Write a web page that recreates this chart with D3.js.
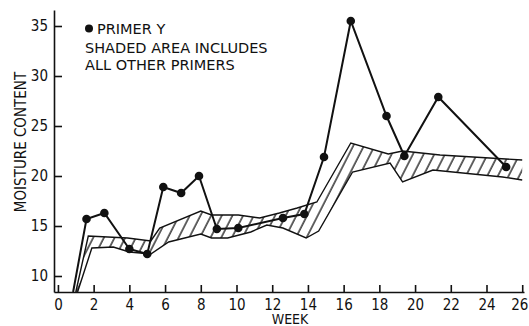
<!DOCTYPE html>
<html>
<head>
<meta charset="utf-8">
<script src="https://cdn.jsdelivr.net/npm/d3@7"></script>
<style>
  body { margin: 0; background: #fff; }
  text { font-family: "DejaVu Sans Condensed", "DejaVu Sans", sans-serif; fill: #111; }
  .legend { font-family: "DejaVu Sans", sans-serif; }
</style>
</head>
<body>
<div id="chart"></div>
<script>
// primer Y readings (week, moisture content)
const primerWeeks = [0.85, 1.6, 2.6, 4.0, 5.0, 5.9, 6.9, 7.9, 8.9, 10.1, 12.6, 13.8, 14.9, 16.4, 18.4, 19.4, 21.3, 25.1];
const primerValues = [8.4, 15.7, 16.3, 12.7, 12.2, 18.9, 18.3, 20.0, 14.7, 14.8, 15.8, 16.2, 21.9, 35.5, 26.0, 22.0, 27.9, 20.9];

// shaded band: upper edge of all other primers
const upperWeeks = [1.0, 1.7, 3.9, 5.2, 5.7, 8.0, 8.6, 10.1, 11.3, 12.4, 13.4, 14.5, 16.4, 18.5, 19.3, 21.4, 26.0];
const upperValues = [8.4, 14.0, 13.8, 13.5, 14.8, 16.5, 16.1, 16.1, 15.8, 16.3, 16.8, 17.4, 23.3, 22.2, 22.5, 22.1, 21.6];

// shaded band: lower edge
const lowerWeeks = [1.1, 1.9, 3.1, 4.0, 5.2, 6.2, 8.0, 8.6, 9.5, 10.8, 11.7, 12.6, 13.9, 14.6, 16.5, 18.6, 19.3, 21.0, 24.9, 26.0];
const lowerValues = [8.4, 12.8, 12.9, 12.4, 12.2, 13.4, 14.2, 13.8, 13.8, 14.4, 15.1, 14.8, 13.8, 14.5, 20.4, 21.3, 19.4, 20.6, 19.9, 19.6];

const yTicks = [10, 15, 20, 25, 30, 35];
const xTicks = [0, 2, 4, 6, 8, 10, 12, 14, 16, 18, 20, 22, 24, 26];

const width = 529, height = 326;

const svg = d3.select("#chart")
    .append("svg")
    .attr("width", width)
    .attr("height", height);

const x = d3.scaleLinear().domain([-0.22, 26.1]).range([54, 524]);
const y = d3.scaleLinear().domain([8.4, 36.6]).range([292, 10]);

// hatch pattern for the band
const pat = svg.append("defs")
    .append("pattern")
    .attr("id", "hatch")
    .attr("patternUnits", "userSpaceOnUse")
    .attr("width", 9.5)
    .attr("height", 20)
    .attr("patternTransform", "rotate(27)");
pat.append("line")
    .attr("x1", 1).attr("y1", 0)
    .attr("x2", 1).attr("y2", 20)
    .attr("stroke", "#000")
    .attr("stroke-width", 1.2);

const upper = upperWeeks.map((w, i) => [w, upperValues[i]]);
const lower = lowerWeeks.map((w, i) => [w, lowerValues[i]]);
const primer = primerWeeks.map((w, i) => [w, primerValues[i]]);

const line = d3.line().x(d => x(d[0])).y(d => y(d[1]));

// band fill
svg.append("path")
    .attr("d", line(upper.concat(lower.slice().reverse())) + "Z")
    .attr("fill", "url(#hatch)")
    .attr("stroke", "none");

// band edges
[upper, lower].forEach(edge => {
    svg.append("path")
        .attr("d", line(edge))
        .attr("fill", "none")
        .attr("stroke", "#111")
        .attr("stroke-width", 1.4);
});

// axes
const yAxis = svg.append("g")
    .attr("transform", `translate(${x.range()[0]},0)`)
    .call(d3.axisLeft(y).tickValues(yTicks).tickSizeInner(-8).tickSizeOuter(0).tickPadding(6));

const xAxis = svg.append("g")
    .attr("transform", `translate(0,${y.range()[0]})`)
    .call(d3.axisBottom(x).tickValues(xTicks).tickSizeInner(-7).tickSizeOuter(0).tickPadding(7));

[yAxis, xAxis].forEach(g => {
    g.selectAll("path, line").attr("stroke", "#111").attr("stroke-width", 1.6);
    g.selectAll("text")
        .style("font-size", "15px")
        .style("font-family", "'DejaVu Sans Condensed', 'DejaVu Sans', sans-serif")
        .attr("fill", "#111");
});
// keep the last week label inside the frame
xAxis.selectAll(".tick text").filter(d => d === 26).attr("dx", -3);

// primer Y line and dots
svg.append("path")
    .attr("d", line(primer))
    .attr("fill", "none")
    .attr("stroke", "#111")
    .attr("stroke-width", 2);

svg.selectAll(".dot")
    .data(primer.filter(d => d[1] > y.domain()[0]))
    .enter()
    .append("circle")
    .attr("class", "dot")
    .attr("cx", d => x(d[0]))
    .attr("cy", d => y(d[1]))
    .attr("r", 4.3)
    .attr("fill", "#111");

// axis titles
svg.append("text")
    .attr("transform", "translate(26,142) rotate(-90)")
    .attr("text-anchor", "middle")
    .style("font-size", "15px")
    .text("MOISTURE CONTENT");

svg.append("text")
    .attr("x", 290)
    .attr("y", 324)
    .attr("text-anchor", "middle")
    .style("font-size", "14px")
    .text("WEEK");

// legend
svg.append("circle")
    .attr("cx", 89).attr("cy", 28.5).attr("r", 4).attr("fill", "#111");
svg.append("text")
    .attr("class", "legend")
    .attr("x", 97).attr("y", 34)
    .style("font-size", "14.5px")
    .text("PRIMER Y");
svg.append("text")
    .attr("class", "legend")
    .attr("x", 85).attr("y", 53)
    .style("font-size", "14.5px")
    .text("SHADED AREA INCLUDES");
svg.append("text")
    .attr("class", "legend")
    .attr("x", 85).attr("y", 70)
    .style("font-size", "14.5px")
    .text("ALL OTHER PRIMERS");
</script>
</body>
</html>
